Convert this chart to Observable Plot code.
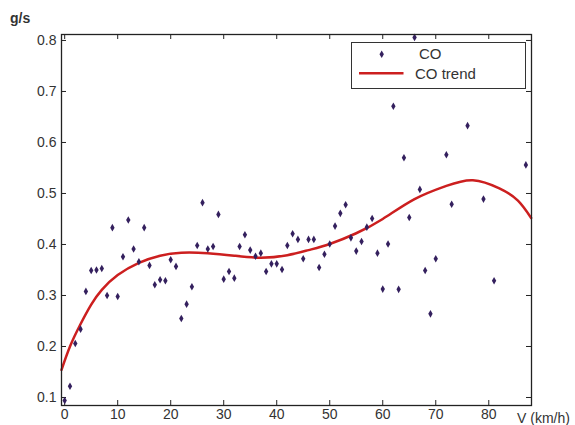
<!DOCTYPE html>
<html>
<head>
<meta charset="utf-8">
<script src="https://cdn.jsdelivr.net/npm/d3@7"></script>
<script src="https://cdn.jsdelivr.net/npm/@observablehq/plot@0.6"></script>
<style>
  html, body { margin: 0; padding: 0; background: #fff; }
  #chart { width: 575px; height: 425px; }
</style>
</head>
<body>
<div id="chart"></div>
<script>
// CO emission points: speed (km/h) and g/s
const speeds = [0,1,2,3,4,5,6,7,8,9,10,11,12,13,14,15,16,17,18,19,20,21,22,23,24,25,26,27,28,29,30,31,32,33,34,35,36,37,38,39,40,41,42,43,44,45,46,47,48,49,50,51,52,53,54,55,56,57,58,59,60,61,62,63,64,65,66,67,68,69,70,72,73,76,79,81,87];
const coValues = [0.094,0.122,0.206,0.234,0.308,0.349,0.350,0.353,0.300,0.433,0.298,0.376,0.448,0.391,0.366,0.433,0.359,0.321,0.331,0.329,0.370,0.357,0.255,0.283,0.317,0.398,0.482,0.391,0.396,0.459,0.332,0.347,0.334,0.396,0.419,0.389,0.377,0.383,0.347,0.362,0.362,0.351,0.398,0.421,0.410,0.372,0.410,0.410,0.355,0.381,0.401,0.436,0.461,0.478,0.413,0.387,0.406,0.434,0.451,0.383,0.3125,0.401,0.671,0.312,0.570,0.453,0.806,0.508,0.349,0.264,0.372,0.576,0.479,0.633,0.489,0.329,0.556];

// CO trend curve
const trendSpeeds = [-0.6,1,3,5,7,10,14,18,22,27,32,37,42,46,50,55,60,66,72,77,82,85.5,88];
const trendValues = [0.154,0.200,0.244,0.282,0.311,0.340,0.364,0.378,0.384,0.383,0.378,0.374,0.379,0.389,0.401,0.422,0.450,0.489,0.515,0.526,0.510,0.486,0.452];

const xTicks = [0,10,20,30,40,50,60,70,80];
const yTicks = [0.1,0.2,0.3,0.4,0.5,0.6,0.7,0.8];
const yLabel = "g/s";
const xLabel = "V (km/h)";
const seriesNames = ["CO", "CO trend"];

const points = speeds.map((s, i) => ({x: s, y: coValues[i]}));
const trend = trendSpeeds.map((s, i) => ({x: s, y: trendValues[i]}));

const W = 575, H = 425;
const mL = 61, mR = 44, mT = 34, mB = 20;
const fw = W - mL - mR, fh = H - mT - mB;
const tick = 5;
const font = "'Liberation Sans', Arial, sans-serif";

const plot = Plot.plot({
  width: W, height: H,
  marginLeft: mL, marginRight: mR, marginTop: mT, marginBottom: mB,
  style: {fontFamily: font, background: "#fff"},
  x: {domain: [-0.6, 88.06]},
  y: {domain: [0.0843, 0.8117]},
  marks: [
    Plot.axisX({ticks: xTicks, tickSize: 0, tickPadding: 4, fontSize: 14, color: "#333", label: null, tickFormat: d => String(d)}),
    Plot.axisY({ticks: yTicks, tickSize: 0, tickPadding: 5, fontSize: 14, color: "#333", label: null, tickFormat: d => d.toFixed(1)}),
    // inward ticks on all four sides
    Plot.tickX(xTicks, {x: d => d, insetTop: fh - tick, stroke: "#222", strokeWidth: 1}),
    Plot.tickX(xTicks, {x: d => d, insetBottom: fh - tick, stroke: "#222", strokeWidth: 1}),
    Plot.tickY(yTicks, {y: d => d, insetRight: fw - tick, stroke: "#222", strokeWidth: 1}),
    Plot.tickY(yTicks, {y: d => d, insetLeft: fw - tick, stroke: "#222", strokeWidth: 1}),
    Plot.line(trend, {x: "x", y: "y", curve: "natural", stroke: "#cc1f1f", strokeWidth: 2.5}),
    Plot.dot(points, {x: "x", y: "y", symbol: "diamond", r: 2.3, fill: "#34205e", stroke: "none"}),
    Plot.frame({stroke: "#222", strokeWidth: 1.3})
  ]
});

document.getElementById("chart").appendChild(plot);

const svg = d3.select(plot);
const extra = svg.append("g").attr("text-anchor", "start").attr("font-family", font);
// axis titles
extra.append("text").attr("x", 10).attr("y", 23)
  .attr("font-size", 14).attr("font-weight", "bold").attr("fill", "#333").text(yLabel);
extra.append("text").attr("x", 517).attr("y", 423)
  .attr("font-size", 14).attr("fill", "#333").text(xLabel);

// legend
const lg = extra.append("g");
lg.append("rect").attr("x", 351.5).attr("y", 42.5).attr("width", 174).attr("height", 46)
  .attr("fill", "#fff").attr("stroke", "#333").attr("stroke-width", 1);
lg.append("path").attr("d", d3.symbol(d3.symbolDiamond, Math.PI * 2.3 * 2.3)())
  .attr("transform", "translate(381.7,54.3)").attr("fill", "#34205e");
lg.append("line").attr("x1", 359).attr("x2", 403.5).attr("y1", 73.3).attr("y2", 73.3)
  .attr("stroke", "#cc1f1f").attr("stroke-width", 2.5);
lg.append("text").attr("x", 419).attr("y", 58.5)
  .attr("font-size", 15).attr("fill", "#333").text(seriesNames[0]);
lg.append("text").attr("x", 415).attr("y", 78.5)
  .attr("font-size", 15).attr("fill", "#333").text(seriesNames[1]);
</script>
</body>
</html>
